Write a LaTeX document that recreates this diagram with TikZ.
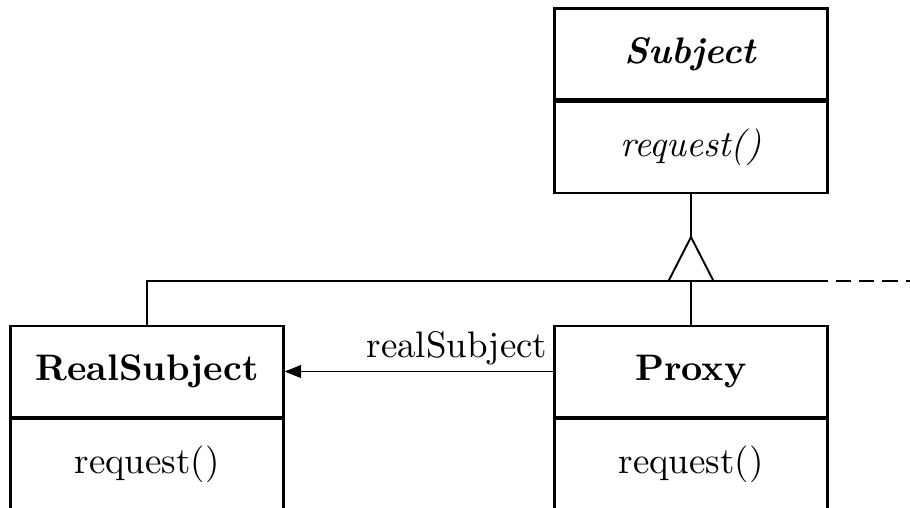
\documentclass[tikz,border=0pt]{standalone}
\usepackage{amsmath,amssymb}
\usepackage{tikz}
\usetikzlibrary{positioning,arrows.meta}
\tikzset{classbox/.style={draw, rectangle, line width=0.6pt, inner sep=0pt,
      minimum width=2.73cm, minimum height=0.91cm,
      font=\fontsize{10.5}{12.6}\selectfont}}
\tikzset{conn/.style={line width=0.55pt}}
\tikzset{divider/.style={line width=0.85pt}}

\begin{document}
\begin{tikzpicture}[line join=miter]
    \useasboundingbox (0,0) rectangle (9.10,5.07);
    \clip (0,0) rectangle (9.10,5.07);
    % classes
    \node[classbox] (subj) at (6.91,4.53) {\textbf{\textit{Subject}}};
    \node[classbox, below=0pt of subj] (subjop) {\textit{request()}};
    \node[classbox] (real) at (1.47,1.355) {\textbf{RealSubject}};
    \node[classbox, below=0pt of real] (realop) {request()};
    \node[classbox] (proxy) at (6.91,1.355) {\textbf{Proxy}};
    \node[classbox, below=0pt of proxy] (proxyop) {request()};
    \foreach \c in {subj,real,proxy}
      \draw[divider] (\c.south west) -- (\c.south east);
    % generalisation
    \coordinate (tip) at (6.91,2.70);
    \coordinate (rail) at (6.91,2.26);
    \coordinate (railend) at (8.28,2.26);
    \coordinate (more) at (8.36,2.26);
    \coordinate (edge) at (9.10,2.26);
    \draw[conn] (subjop.south) -- (tip);
    \draw[conn] (tip) -- ++(-0.225,-0.44) -- ++(0.45,0) -- cycle;
    \draw[conn] (real.north) |- (railend);
    \draw[conn] (rail) -- (proxy.north);
    \draw[conn, dash pattern=on 4.3pt off 2.3pt] (more) -- (edge);
    % reference
    \draw[conn, -{Triangle[length=4.7pt,width=3.6pt]}] (proxy.west) -- (real.east)
      node[pos=0, anchor=south east, inner xsep=1.5pt, inner ysep=1.5pt,
           font=\fontsize{10.5}{12.6}\selectfont] {realSubject};
\end{tikzpicture}
\end{document}
